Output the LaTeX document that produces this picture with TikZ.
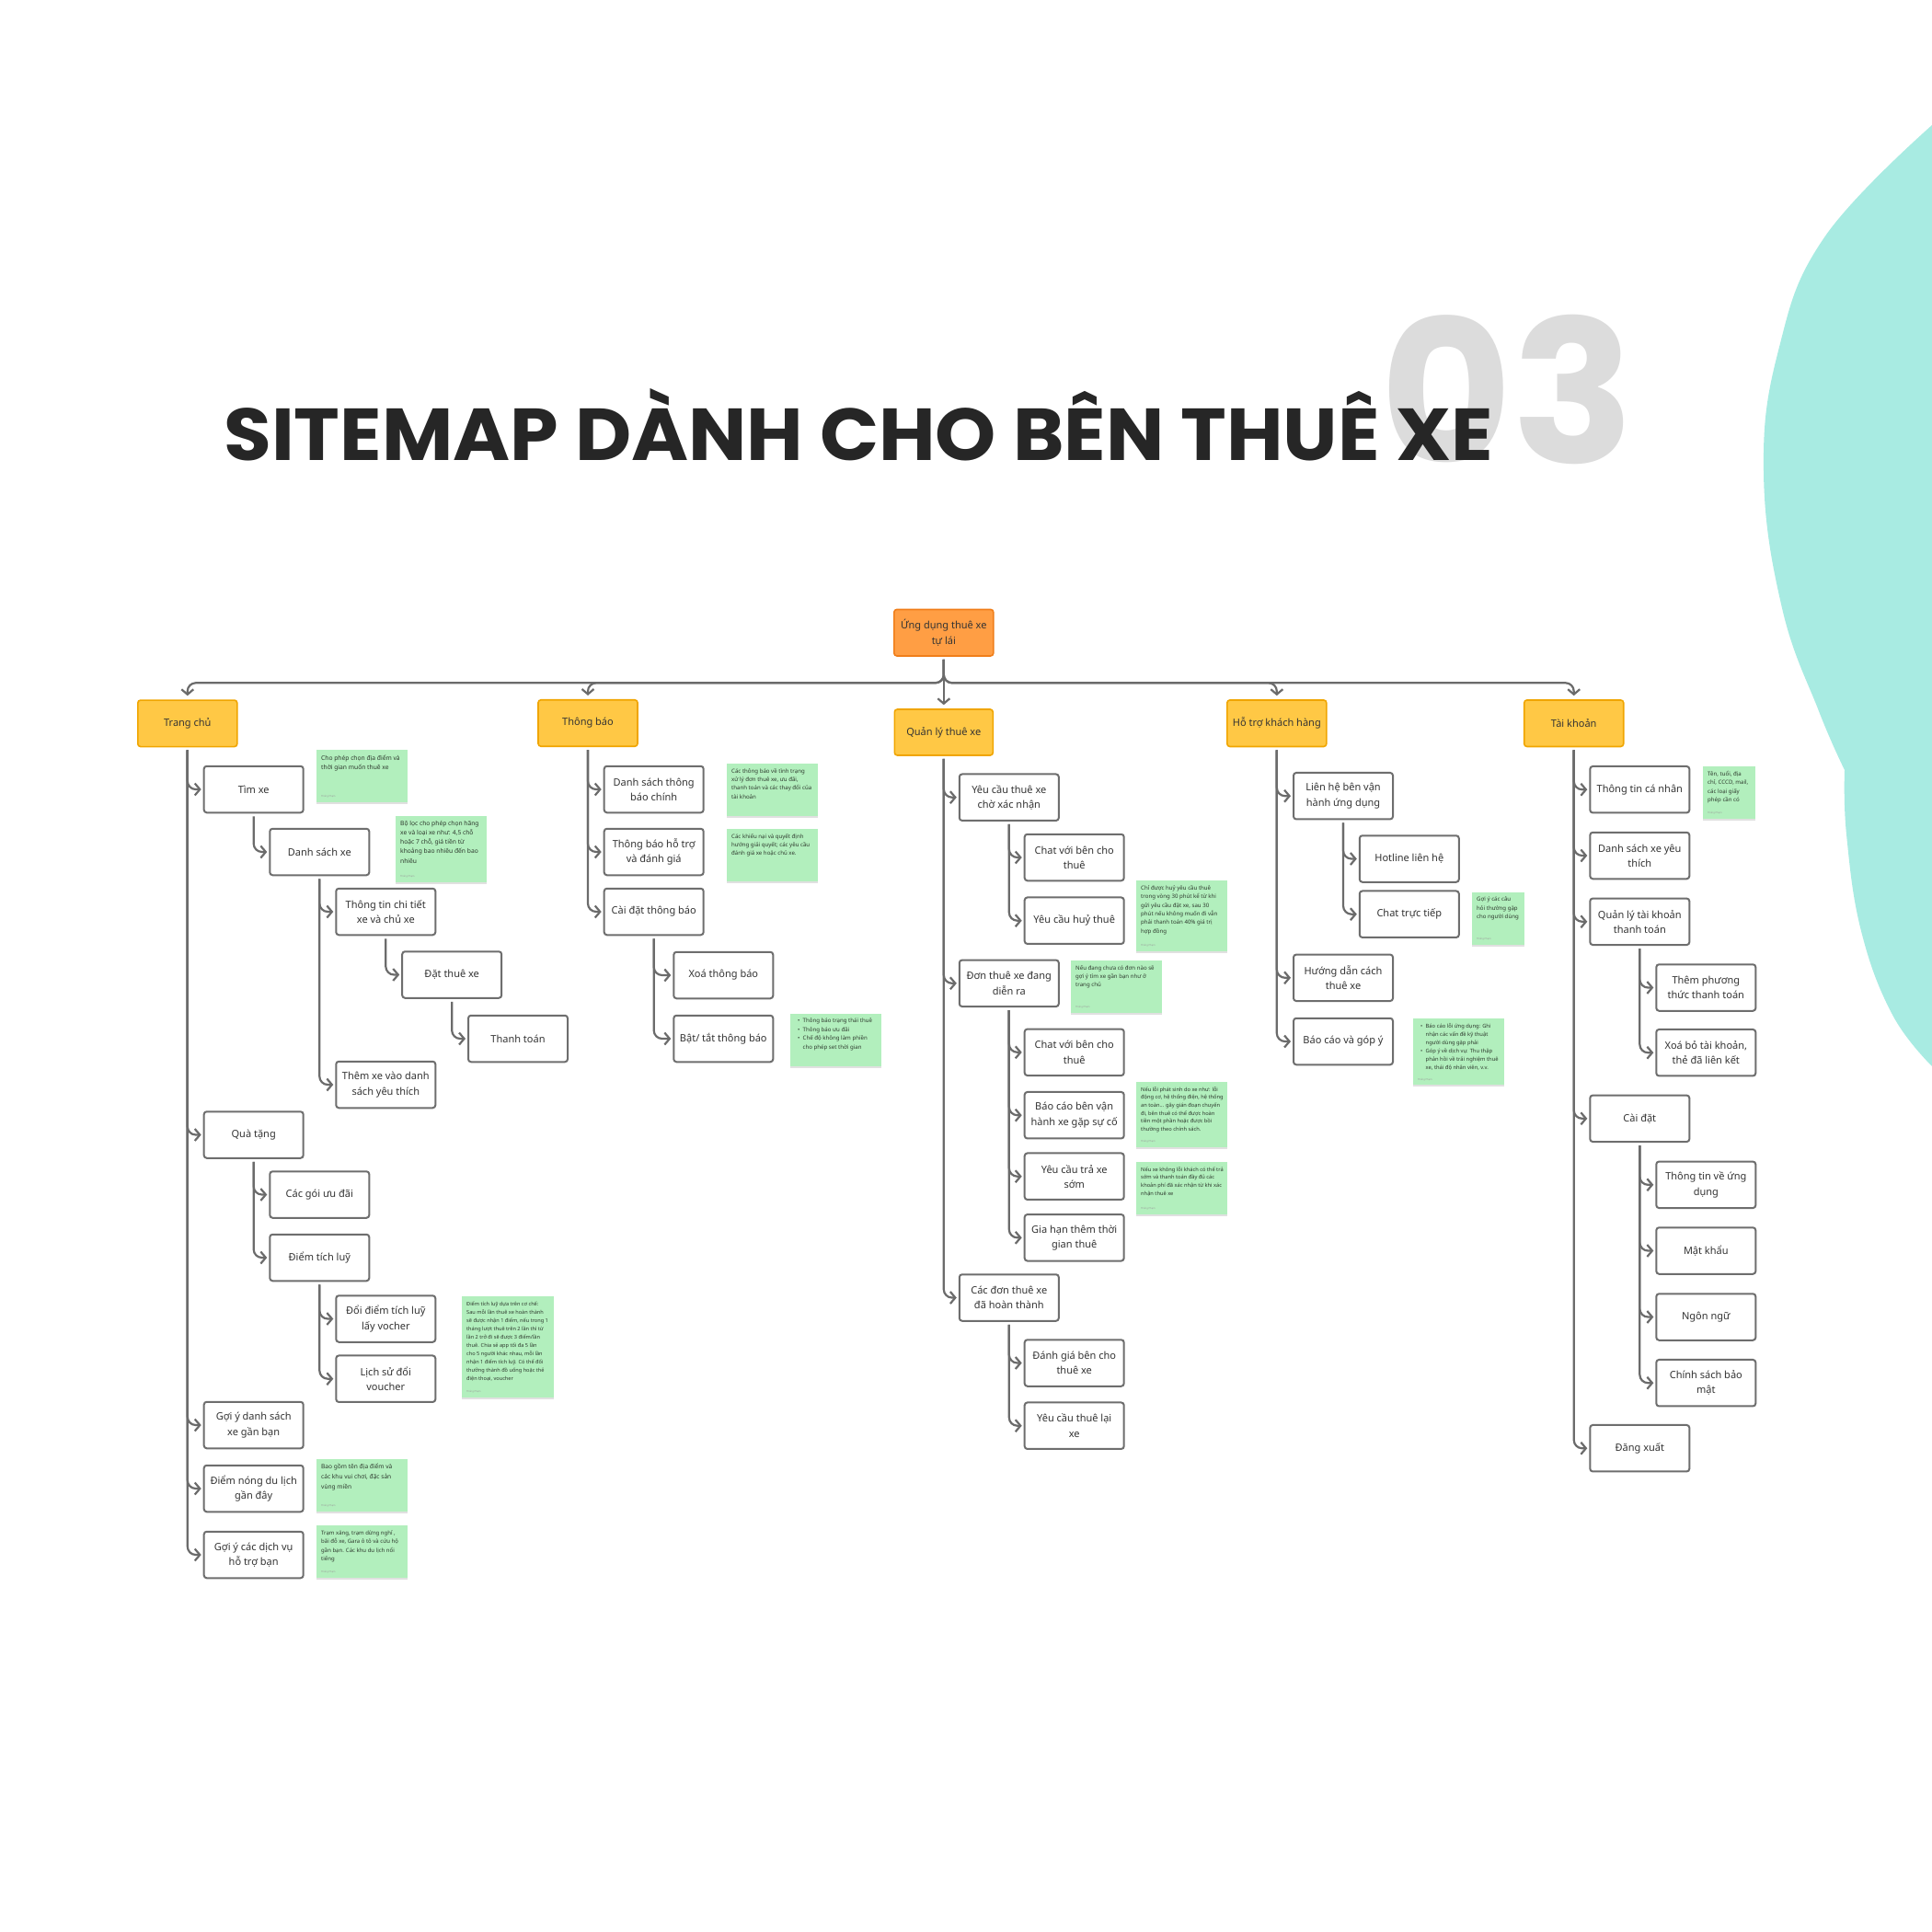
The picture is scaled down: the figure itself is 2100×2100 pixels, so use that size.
\documentclass[tikz,border=0pt]{standalone}
\usepackage{fontspec}
\setmainfont{Noto Sans}
\newfontfamily\titlefont{Poppins}
\usetikzlibrary{arrows.meta,shadows}
\definecolor{linec}{HTML}{6B6B6B}
\definecolor{boxc}{HTML}{6E6E6E}
\definecolor{catfill}{HTML}{FFC845}
\definecolor{catdraw}{HTML}{F0A500}
\definecolor{rootfill}{HTML}{FF9E44}
\definecolor{rootdraw}{HTML}{F07E1A}
\definecolor{stickyc}{HTML}{B2EFBD}
\definecolor{tealc}{HTML}{A8EBE2}
\definecolor{titlec}{HTML}{262626}
\definecolor{numc}{HTML}{DCDCDC}
\definecolor{txt}{HTML}{333333}
\definecolor{stxt}{HTML}{2E3A2E}
\tikzset{
  conn/.style={draw=linec, line width=2.2pt, rounded corners=9pt,
    -{Straight Barb[length=5.5pt,width=13pt,line width=2.2pt]}},
  leaf/.style={draw=boxc, line width=2pt, fill=white, rounded corners=3pt,
    minimum width=108pt, minimum height=50.5pt, align=center, inner sep=0pt,
    font=\fontsize{11}{16.3}\selectfont, text=txt},
  cat/.style={leaf, fill=catfill, draw=catdraw, line width=1.6pt},
  rootbox/.style={leaf, fill=rootfill, draw=rootdraw, line width=1.6pt},
  sticky/.style={fill=stickyc, minimum width=99pt, minimum height=57pt, inner sep=0pt,
    anchor=north west, drop shadow={shadow xshift=0pt, shadow yshift=-1.3pt, opacity=0.12, fill=black}},
  stext/.style={anchor=north west, inner sep=0pt, align=left,
    font=\fontsize{6.1}{9.4}\selectfont, text=stxt},
  sig/.style={anchor=south west, inner sep=0pt, font=\fontsize{2.6}{3}\selectfont, text=black!40},
}
\begin{document}
\begin{tikzpicture}[x=1pt,y=-1pt]
\useasboundingbox (0,0) rectangle (2100,2100);
\fill[white] (0,0) rectangle (2100,2100);
% teal decoration
\fill[tealc] plot[smooth, tension=0.7] coordinates {(2100,136) (1983,258) (1933,381) (1917,514) (1937,661) (1977,773) (2005,837)}
  -- plot[smooth, tension=0.7] coordinates {(2005,837) (2007,907) (2023,1012) (2057,1103) (2100,1159)} -- cycle;
% title
\node[anchor=base west, inner sep=0pt, text=numc, xscale=1.02,
  font=\titlefont\bfseries\fontsize{216}{216}\selectfont] (num) at (1500,503) {03};
\node[anchor=base west, inner sep=0pt, text=titlec, xscale=1.053,
  font=\titlefont\bfseries\fontsize{80}{80}\selectfont] (title) at (243,500) {SITEMAP DÀNH CHO BÊN THUÊ XE};
% root and categories
\node[rootbox] (root) at (1025.8,687.7) {Ứng dụng thuê xe\\tự lái};
\node[cat] (tc) at (203.8,786.3) {Trang chủ};
\node[cat] (tb) at (639,786) {Thông báo};
\node[cat, minimum width=107pt, minimum height=50pt] (ql) at (1025.8,796) {Quản lý thuê xe};
\node[cat] (ht) at (1387.8,786.2) {Hỗ trợ khách hàng};
\node[cat] (tk) at (1710.7,786.2) {Tài khoản};
\coordinate (bus) at (0,742.3);
\foreach \c in {tc,tb,ht,tk}
  \draw[conn] ([yshift=-3pt]root.south) -- (root.south |- bus) -| ([yshift=4pt]\c.north);
\draw[conn] ([yshift=-3pt]root.south) -- ([yshift=4pt]ql.north);
% Trang chu
\node[leaf] (tc1) at (275.7,858) {Tìm xe};
\node[leaf] (tc2) at (347.3,926) {Danh sách xe};
\node[leaf] (tc3) at (419.3,991) {Thông tin chi tiết\\xe và chủ xe};
\node[leaf] (tc4) at (491.2,1059.5) {Đặt thuê xe};
\node[leaf] (tc5) at (563,1129) {Thanh toán};
\node[leaf] (tc6) at (419.3,1179) {Thêm xe vào danh\\sách yêu thích};
\node[leaf] (tc7) at (275.7,1233.5) {Quà tặng};
\node[leaf] (tc8) at (347.3,1298.5) {Các gói ưu đãi};
\node[leaf] (tc9) at (347.3,1367) {Điểm tích luỹ};
\node[leaf] (tc10) at (419.3,1433.5) {Đổi điểm tích luỹ\\lấy vocher};
\node[leaf] (tc11) at (419.3,1498.7) {Lịch sử đổi\\voucher};
\node[leaf] (tc12) at (275.7,1549) {Gợi ý danh sách\\xe gần bạn};
\node[leaf] (tc13) at (275.7,1618) {Điểm nóng du lịch\\gần đây};
\node[leaf] (tc14) at (275.7,1690) {Gợi ý các dịch vụ\\hỗ trợ bạn};
% Thong bao
\node[leaf] (tb1) at (710.7,858) {Danh sách thông\\báo chính};
\node[leaf] (tb2) at (710.7,926) {Thông báo hỗ trợ\\và đánh giá};
\node[leaf] (tb3) at (710.7,991) {Cài đặt thông báo};
\node[leaf] (tb4) at (786.3,1060) {Xoá thông báo};
\node[leaf] (tb5) at (786.3,1129) {Bật/ tắt thông báo};
% Quan ly thue xe
\node[leaf] (ql1) at (1096.8,866.7) {Yêu cầu thuê xe\\chờ xác nhận};
\node[leaf] (ql2) at (1167.7,932) {Chat với bên cho\\thuê};
\node[leaf] (ql3) at (1167.7,1000.7) {Yêu cầu huỷ thuê};
\node[leaf] (ql4) at (1096.8,1068.8) {Đơn thuê xe đang\\diễn ra};
\node[leaf] (ql5) at (1167.7,1143.8) {Chat với bên cho\\thuê};
\node[leaf] (ql6) at (1167.7,1212.2) {Báo cáo bên vận\\hành xe gặp sự cố};
\node[leaf] (ql7) at (1167.7,1278.7) {Yêu cầu trả xe\\sớm};
\node[leaf] (ql8) at (1167.7,1345.3) {Gia hạn thêm thời\\gian thuê};
\node[leaf] (ql9) at (1096.8,1410.5) {Các đơn thuê xe\\đã hoàn thành};
\node[leaf] (ql10) at (1167.7,1481.5) {Đánh giá bên cho\\thuê xe};
\node[leaf] (ql11) at (1167.7,1549.7) {Yêu cầu thuê lại\\xe};
% Ho tro khach hang
\node[leaf] (ht1) at (1460,865.2) {Liên hệ bên vận\\hành ứng dụng};
\node[leaf] (ht2) at (1531.8,933.5) {Hotline liên hệ};
\node[leaf] (ht3) at (1531.8,993.7) {Chat trực tiếp};
\node[leaf] (ht4) at (1460,1062.8) {Hướng dẫn cách\\thuê xe};
\node[leaf] (ht5) at (1460,1132) {Báo cáo và góp ý};
% Tai khoan
\node[leaf] (tk1) at (1782.3,858.2) {Thông tin cá nhân};
\node[leaf] (tk2) at (1782.3,930) {Danh sách xe yêu\\thích};
\node[leaf] (tk3) at (1782.3,1001.8) {Quản lý tài khoản\\thanh toán};
\node[leaf] (tk4) at (1854.3,1073.5) {Thêm phương\\thức thanh toán};
\node[leaf] (tk5) at (1854.3,1144.2) {Xoá bỏ tài khoản,\\thẻ đã liên kết};
\node[leaf] (tk6) at (1782.3,1215.8) {Cài đặt};
\node[leaf] (tk7) at (1854.3,1287.8) {Thông tin về ứng\\dụng};
\node[leaf] (tk8) at (1854.3,1359.5) {Mật khẩu};
\node[leaf] (tk9) at (1854.3,1431.5) {Ngôn ngữ};
\node[leaf] (tk10) at (1854.3,1503.2) {Chính sách bảo\\mật};
\node[leaf] (tk11) at (1782.3,1574.2) {Đăng xuất};
% connectors
\foreach \p/\c in {tc/tc1, tc1/tc2, tc2/tc3, tc3/tc4, tc4/tc5, tc2/tc6, tc/tc7, tc7/tc8, tc7/tc9,
  tc9/tc10, tc9/tc11, tc/tc12, tc/tc13, tc/tc14,
  tb/tb1, tb/tb2, tb/tb3, tb3/tb4, tb3/tb5,
  ql/ql1, ql1/ql2, ql1/ql3, ql/ql4, ql4/ql5, ql4/ql6, ql4/ql7, ql4/ql8, ql/ql9, ql9/ql10, ql9/ql11,
  ht/ht1, ht1/ht2, ht1/ht3, ht/ht4, ht/ht5,
  tk/tk1, tk/tk2, tk/tk3, tk3/tk4, tk3/tk5, tk/tk6, tk6/tk7, tk6/tk8, tk6/tk9, tk6/tk10, tk/tk11}
  \draw[conn] ([yshift=-3pt]\p.south) |- ([xshift=-2pt]\c.west);
% sticky notes
\node[sticky] (s1) at (344,815) {};
\node[stext, font=\fontsize{6.7}{10.2}\selectfont] (s1t) at ([xshift=5pt,yshift=-5pt]s1.north west) {Cho phép chọn địa điểm và\\thời gian muốn thuê xe};
\node[sig] (s1s) at ([xshift=5pt,yshift=5pt]s1.south west) {Thắng Phạm};
\node[sticky, minimum height=72pt] (s2) at (430,887) {};
\node[stext, font=\fontsize{6.7}{10.2}\selectfont] (s2t) at ([xshift=5pt,yshift=-5pt]s2.north west) {Bộ lọc cho phép chọn hãng\\xe và loại xe như: 4,5 chỗ\\hoặc 7 chỗ, giá tiền từ\\khoảng bao nhiêu đến bao\\nhiêu};
\node[sig] (s2s) at ([xshift=5pt,yshift=5pt]s2.south west) {Thắng Phạm};
\node[sticky, minimum width=100pt, minimum height=110pt] (s3) at (502,1409) {};
\node[stext, font=\fontsize{5.6}{9}\selectfont] (s3t) at ([xshift=5pt,yshift=-5pt]s3.north west) {Điểm tích luỹ dựa trên cơ chế:\\Sau mỗi lần thuê xe hoàn thành\\sẽ được nhận 1 điểm, nếu trong 1\\tháng lượt thuê trên 2 lần thì từ\\lần 2 trở đi sẽ được 3 điểm/lần\\thuê. Chia sẻ app tối đa 5 lần\\cho 5 người khác nhau, mỗi lần\\nhận 1 điểm tích luỹ. Có thể đổi\\thưởng thành đồ uống hoặc thẻ\\điện thoại, voucher};
\node[sig] (s3s) at ([xshift=5pt,yshift=5pt]s3.south west) {Thắng Phạm};
\node[sticky] (s4) at (344,1586) {};
\node[stext, font=\fontsize{6.6}{10.6}\selectfont] (s4t) at ([xshift=5pt,yshift=-5pt]s4.north west) {Bao gồm tên địa điểm và\\các khu vui chơi, đặc sản\\vùng miền};
\node[sig] (s4s) at ([xshift=5pt,yshift=5pt]s4.south west) {Thắng Phạm};
\node[sticky] (s5) at (344,1658) {};
\node[stext, font=\fontsize{6.0}{9.5}\selectfont] (s5t) at ([xshift=5pt,yshift=-5pt]s5.north west) {Trạm xăng, trạm dừng nghỉ ,\\bãi đỗ xe, Gara ô tô và cứu hộ\\gần bạn. Các khu du lịch nổi\\tiếng};
\node[sig] (s5s) at ([xshift=5pt,yshift=5pt]s5.south west) {Thắng Phạm};
\node[sticky] (s6) at (790,830) {};
\node[stext] (s6t) at ([xshift=5pt,yshift=-5pt]s6.north west) {Các thông báo về tình trạng\\xử lý đơn thuê xe, ưu đãi,\\thanh toán và các thay đổi của\\tài khoản};
\node[sticky] (s7) at (790,901) {};
\node[stext] (s7t) at ([xshift=5pt,yshift=-5pt]s7.north west) {Các khiếu nại và quyết định\\hướng giải quyết; các yêu cầu\\đánh giá xe hoặc chủ xe.};
\node[sticky] (s8) at (859,1102) {};
\node[stext] (s8t) at ([xshift=8pt,yshift=-5pt]s8.north west) {\makebox[5.5pt][l]{•}Thông báo trạng thái thuê\\\makebox[5.5pt][l]{•}Thông báo ưu đãi\\\makebox[5.5pt][l]{•}Chế độ không làm phiền\\\hspace*{5.5pt}cho phép set thời gian};
\node[sticky, minimum height=77pt] (s9) at (1235,957) {};
\node[stext] (s9t) at ([xshift=5pt,yshift=-5pt]s9.north west) {Chỉ được huỷ yêu cầu thuê\\trong vòng 30 phút kể từ khi\\gửi yêu cầu đặt xe, sau 30\\phút nếu không muốn đi vẫn\\phải thanh toán 40\% giá trị\\hợp đồng};
\node[sig] (s9s) at ([xshift=5pt,yshift=5pt]s9.south west) {Thắng Phạm};
\node[sticky] (s10) at (1164,1044) {};
\node[stext] (s10t) at ([xshift=5pt,yshift=-5pt]s10.north west) {Nếu đang chưa có đơn nào sẽ\\gợi ý tìm xe gần bạn như ở\\trang chủ};
\node[sig] (s10s) at ([xshift=5pt,yshift=5pt]s10.south west) {Thắng Phạm};
\node[sticky, minimum height=71pt] (s11) at (1235,1176) {};
\node[stext, font=\fontsize{5.7}{8.6}\selectfont] (s11t) at ([xshift=5pt,yshift=-5pt]s11.north west) {Nếu lỗi phát sinh do xe như: lỗi\\động cơ, hệ thống điện, hệ thống\\an toàn... gây gián đoạn chuyến\\đi, bên thuê có thể được hoàn\\tiền một phần hoặc được bồi\\thường theo chính sách.};
\node[sig] (s11s) at ([xshift=5pt,yshift=5pt]s11.south west) {Thắng Phạm};
\node[sticky] (s12) at (1235,1263) {};
\node[stext, font=\fontsize{5.7}{8.6}\selectfont] (s12t) at ([xshift=5pt,yshift=-5pt]s12.north west) {Nếu xe không lỗi khách có thể trả\\sớm và thanh toán đầy đủ các\\khoản phí đã xác nhận từ khi xác\\nhận thuê xe};
\node[sig] (s12s) at ([xshift=5pt,yshift=5pt]s12.south west) {Thắng Phạm};
\node[sticky, minimum width=57pt] (s13) at (1600,970) {};
\node[stext] (s13t) at ([xshift=5pt,yshift=-5pt]s13.north west) {Gợi ý các câu\\hỏi thường gặp\\cho người dùng};
\node[sig] (s13s) at ([xshift=5pt,yshift=5pt]s13.south west) {Thắng Phạm};
\node[sticky, minimum height=72pt] (s14) at (1536,1107) {};
\node[stext, font=\fontsize{5.8}{9}\selectfont] (s14t) at ([xshift=8pt,yshift=-5pt]s14.north west) {\makebox[5.5pt][l]{•}Báo cáo lỗi ứng dụng: Ghi\\\hspace*{5.5pt}nhận các vấn đề kỹ thuật\\\hspace*{5.5pt}người dùng gặp phải\\\makebox[5.5pt][l]{•}Góp ý về dịch vụ: Thu thập\\\hspace*{5.5pt}phản hồi về trải nghiệm thuê\\\hspace*{5.5pt}xe, thái độ nhân viên, v.v.};
\node[sig] (s14s) at ([xshift=5pt,yshift=4pt]s14.south west) {Thắng Phạm};
\node[sticky, minimum width=57pt] (s15) at (1851,833) {};
\node[stext] (s15t) at ([xshift=5pt,yshift=-5pt]s15.north west) {Tên, tuổi, địa\\chỉ, CCCD, mail,\\các loại giấy\\phép cần có};
\node[sig] (s15s) at ([xshift=5pt,yshift=5pt]s15.south west) {Thắng Phạm};
\end{tikzpicture}
\end{document}
